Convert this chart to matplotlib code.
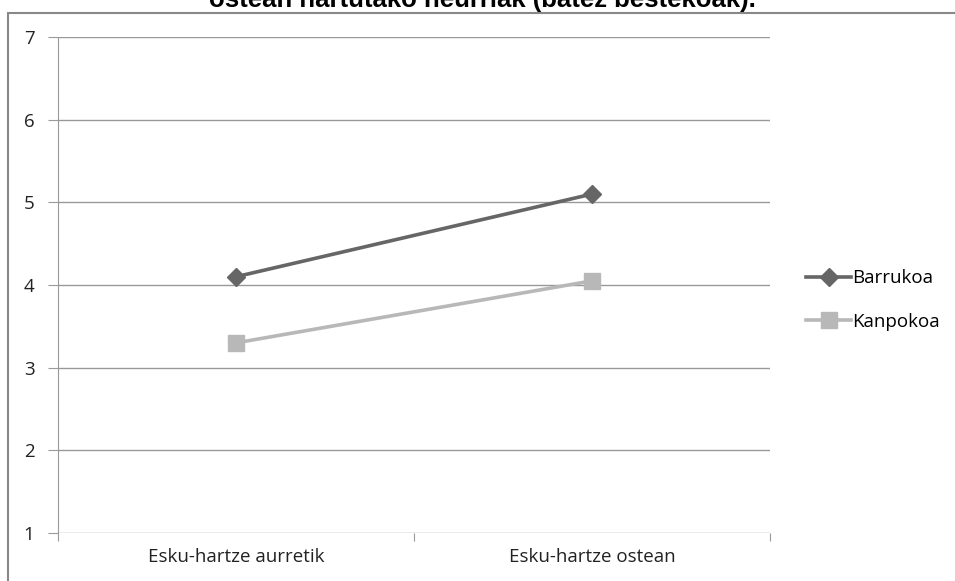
import matplotlib.pyplot as plt
from matplotlib.patches import Rectangle

# data
categories = ['Esku-hartze aurretik', 'Esku-hartze ostean']
barrukoa = [4.1, 5.1]
kanpokoa = [3.3, 4.05]
yticks = [1, 2, 3, 4, 5, 6, 7]
title = 'ostean hartutako neurriak (batez bestekoak).'

fig = plt.figure(figsize=(9.55, 5.81), dpi=100)
ax = fig.add_axes([58/955, 1-533/581, (770-58)/955, (533-37)/581])

xs = [0.5, 1.5]
ax.plot(xs, barrukoa, color='#666666', lw=2.6, marker='D', ms=9, label='Barrukoa', zorder=3)
ax.plot(xs, kanpokoa, color='#b8b8b8', lw=2.6, marker='s', ms=12, label='Kanpokoa', zorder=3)

ax.set_xlim(0, 2)
ax.set_ylim(1, 7)
ax.set_yticks(yticks)
ax.set_xticks([0, 1, 2])
ax.set_xticklabels([])
ax.set_xticks(xs, minor=True)
ax.set_xticklabels(categories, minor=True, fontsize=13.5, family='Open Sans', color='#222222')
ax.tick_params(axis='x', which='minor', length=0, pad=11)
ax.tick_params(axis='x', which='major', length=6, color='#999999', direction='out')
ax.tick_params(axis='y', length=7, color='#999999', labelsize=13.5, labelcolor='#222222', pad=10)
for t in ax.get_yticklabels():
    t.set_family('Open Sans')

ax.grid(axis='y', color='#999999', lw=1)
ax.set_axisbelow(True)
for s in ['top', 'right', 'bottom']:
    ax.spines[s].set_visible(False)
ax.spines['left'].set_color('#999999')

leg = fig.legend(loc='center left', bbox_to_anchor=(0.8265, 1-300/581), frameon=False,
                 prop={'family': 'Open Sans', 'size': 13.5}, handlelength=2.4,
                 handletextpad=0.05, labelspacing=1.35)

# outer chart border
fig.patches.append(Rectangle((8/955, -0.1), 1.2, 1-13/581+0.1, transform=fig.transFigure,
                             fill=False, edgecolor='#888888', lw=1.5))

fig.text(482/955, 1-7/581, title, ha='center', va='baseline', fontsize=18.5,
         fontweight='bold', family='Liberation Sans')

fig.savefig('out.png', dpi=100)
